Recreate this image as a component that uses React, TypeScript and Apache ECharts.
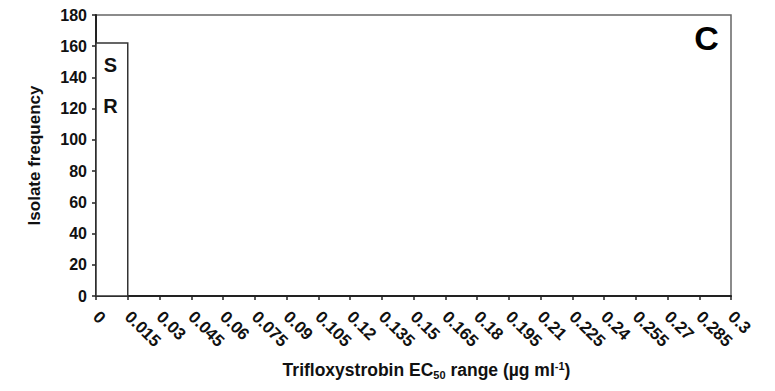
import React, { useEffect, useRef } from "react";
import * as echarts from "echarts";

// EC50 bin edges (µg ml-1) and tick labels along the x axis
const xTickLabels = [
  "0", "0.015", "0.03", "0.045", "0.06", "0.075", "0.09", "0.105", "0.12", "0.135",
  "0.15", "0.165", "0.18", "0.195", "0.21", "0.225", "0.24", "0.255", "0.27", "0.285", "0.3",
];
// Histogram bins: lower edge, upper edge, isolate count
const binStarts = [0];
const binEnds = [0.015];
const binCounts = [162];

const FONT = "'Liberation Sans', Arial, sans-serif";

export default function App() {
  const ref = useRef<HTMLDivElement>(null);

  useEffect(() => {
    if (!ref.current) return;
    const chart = echarts.init(ref.current, undefined, { renderer: "svg" });
    const step = 0.015;
    const data = binStarts.map((s, i) => [s, binEnds[i], binCounts[i]]);

    chart.setOption({
      animation: false,
      backgroundColor: "#ffffff",
      grid: { left: 96, right: 44, top: 15, bottom: 95, show: true, borderColor: "#666", borderWidth: 1.5 },
      xAxis: {
        type: "value",
        min: 0,
        max: 0.3,
        interval: step,
        name: "{b|Trifloxystrobin EC}{sub|50}{b| range (µg ml}{sup|-1}{b|)}",
        nameLocation: "middle",
        nameGap: 64,
        nameTextStyle: {
          padding: [0, 0, 0, 26],
          rich: {
            b: { fontFamily: FONT, fontWeight: "bold", fontSize: 17.5, color: "#111", lineHeight: 20 },
            sub: { fontFamily: FONT, fontWeight: "bold", fontSize: 11, color: "#111", verticalAlign: "bottom", lineHeight: 20, padding: [6, 0, 0, 0] },
            sup: { fontFamily: FONT, fontWeight: "bold", fontSize: 11, color: "#111", verticalAlign: "top", lineHeight: 20, padding: [0, 0, 6, 0] },
          },
        },
        splitLine: { show: false },
        axisLine: { show: true, lineStyle: { color: "#222", width: 2 } },
        axisTick: { show: true, length: 4, lineStyle: { color: "#222", width: 1.5 } },
        axisLabel: {
          rotate: -45,
          margin: 18,
          fontFamily: FONT,
          fontWeight: "bold",
          fontSize: 17,
          color: "#111",
          formatter: (v: number) => xTickLabels[Math.round(v / step)] ?? "",
        },
      },
      yAxis: {
        type: "value",
        min: 0,
        max: 180,
        interval: 20,
        name: "Isolate frequency",
        nameLocation: "middle",
        nameGap: 53,
        nameTextStyle: { fontFamily: FONT, fontWeight: "bold", fontSize: 17, color: "#111" },
        splitLine: { show: false },
        axisLine: { show: true, lineStyle: { color: "#222", width: 2 } },
        axisTick: { show: true, length: 4, lineStyle: { color: "#222", width: 1.5 } },
        axisLabel: { fontFamily: FONT, fontWeight: "bold", fontSize: 16, color: "#111", margin: 9 },
      },
      series: [
        {
          type: "custom",
          data,
          renderItem: (params: any, api: any) => {
            const p0 = api.coord([api.value(0), api.value(2)]);
            const p1 = api.coord([api.value(1), 0]);
            return {
              type: "rect",
              shape: { x: p0[0], y: p0[1], width: p1[0] - p0[0], height: p1[1] - p0[1] },
              style: { fill: "#ffffff", stroke: "#333", lineWidth: 1.5 },
            };
          },
        },
      ],
      graphic: [
        {
          type: "text", x: 110.5, y: 64.5, z: 100,
          style: { text: "S", fontFamily: FONT, fontWeight: "bold", fontSize: 20, fill: "#111", align: "center", verticalAlign: "middle" },
        },
        {
          type: "text", x: 110.5, y: 106, z: 100,
          style: { text: "R", fontFamily: FONT, fontWeight: "bold", fontSize: 20, fill: "#111", align: "center", verticalAlign: "middle" },
        },
        {
          type: "text", x: 706.5, y: 38, z: 100,
          style: { text: "C", fontFamily: FONT, fontWeight: "bold", fontSize: 34, fill: "#000", align: "center", verticalAlign: "middle" },
        },
      ],
    });

    return () => chart.dispose();
  }, []);

  return <div ref={ref} style={{ width: 775, height: 391, margin: -8 }} />;
}
